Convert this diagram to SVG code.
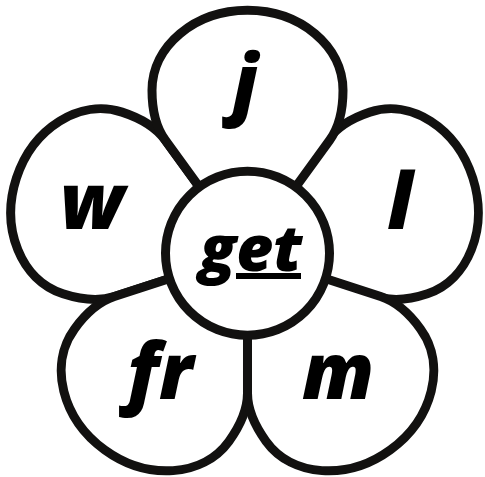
<svg xmlns="http://www.w3.org/2000/svg" width="485" height="477" viewBox="0 0 485 477">
  <defs>
    <path id="petalShape" d="M 0 0 L -82.3 -113.3 C -92.3 -127.1 -95.5 -143 -95.5 -163 C -95.5 -207.2 -52.7 -243 0 -243 C 52.7 -243 95.5 -207.2 95.5 -163 C 95.5 -143 92.3 -127.1 82.3 -113.3 Z"/>
  </defs>
  <style>
    .petal { fill: #ffffff; stroke: #121110; stroke-width: 9; stroke-linejoin: round; }
    .hub { fill: #ffffff; stroke: #121110; stroke-width: 9; }
    .lbl { font-family: "Open Sans", "Liberation Sans", sans-serif; font-weight: 800; font-style: italic; fill: #000000; text-anchor: middle; }
    .big { font-size: 78px; }
    .mid { font-size: 64px; }
  </style>
  <rect width="485" height="477" fill="#ffffff"/>
  <g id="petal-w">
    <use href="#petalShape" class="petal" transform="translate(247.5,253.3) rotate(-72)"/>
    <text class="lbl big" x="92" y="229">w</text>
  </g>
  <g id="petal-l">
    <use href="#petalShape" class="petal" transform="translate(247.5,253.3) scale(0.975,1) rotate(72)"/>
    <text class="lbl big" x="400" y="229">l</text>
  </g>
  <g id="petal-fr">
    <use href="#petalShape" class="petal" transform="translate(247.5,253.3) rotate(-144)"/>
    <text class="lbl big" x="160" y="399">fr</text>
  </g>
  <g id="petal-m">
    <use href="#petalShape" class="petal" transform="translate(247.5,253.3) rotate(144)"/>
    <text class="lbl big" x="338" y="399">m</text>
  </g>
  <g id="petal-j">
    <use href="#petalShape" class="petal" transform="translate(247.5,253.3)"/>
    <text class="lbl big" x="245" y="110">j</text>
  </g>
  <g id="center-get">
    <circle class="hub" cx="247.5" cy="253.3" r="82"/>
    <text class="lbl mid" x="251" y="271">get</text>
    <rect x="236" y="273" width="65" height="6" fill="#000000"/>
  </g>
  <g id="connectors"></g>
</svg>
